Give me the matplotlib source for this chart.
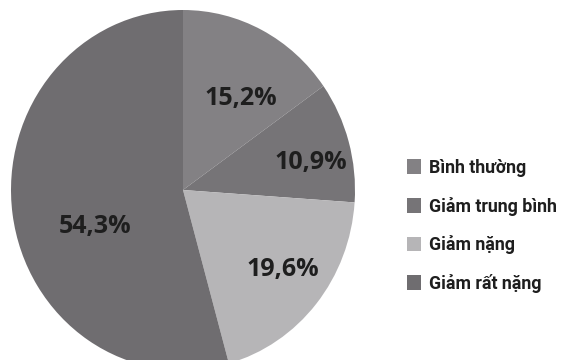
import numpy as np
import matplotlib
matplotlib.use("Agg")
import matplotlib.pyplot as plt

plt.rcParams['font.family'] = ['Open Sans', 'DejaVu Sans']

categories = ["Bình thường", "Giảm trung bình", "Giảm nặng", "Giảm rất nặng"]
values = [15.2, 10.9, 19.6, 54.3]
value_labels = ["15,2%", "10,9%", "19,6%", "54,3%"]
colors = ["#838184", "#767477", "#b6b5b7", "#6f6d70"]

# radial distance and angular nudge (degrees) for each percentage label
label_r = [0.61, 0.76, 0.73, 0.55]
label_dtheta = [-6, -4, 2, 14]

W, H = 563, 360
fig = plt.figure(figsize=(W / 100, H / 100), dpi=100)
fig.patch.set_facecolor("white")

# pie is slightly stretched vertically
cx, cy, rx, ry = 183, 170, 172, 180
ax = fig.add_axes([(cx - rx) / W, (cy - ry) / H, 2 * rx / W, 2 * ry / H])
wedges, _ = ax.pie(values, colors=colors, startangle=90, counterclock=False,
                   wedgeprops=dict(linewidth=0))
ax.set_xlim(-1, 1)
ax.set_ylim(-1, 1)
ax.set_aspect("auto")
ax.axis("off")

for w, txt, r, dt in zip(wedges, value_labels, label_r, label_dtheta):
    th = np.deg2rad((w.theta1 + w.theta2) / 2 + dt)
    ax.text(r * np.cos(th), r * np.sin(th), txt, ha="center", va="center",
            fontsize=18, fontweight="bold", color="#1e1e1e")

leg = fig.legend(wedges, categories, loc="upper left",
                 bbox_to_anchor=(407 / W, 1 - 159 / H), frameon=False,
                 handlelength=0.78, handleheight=0.9, handletextpad=0.45,
                 labelspacing=1.1, borderaxespad=0, borderpad=0,
                 prop=dict(family="Roboto", size=12.8, weight="bold"))
for t in leg.get_texts():
    t.set_color("#1e1e1e")

fig.savefig("out.png", dpi=100, facecolor="white")
